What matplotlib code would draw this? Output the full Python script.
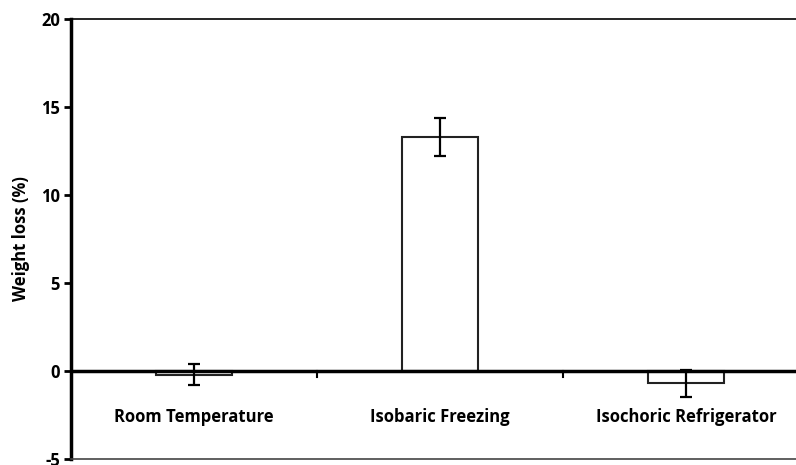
import matplotlib.pyplot as plt
import numpy as np

categories = ['Room Temperature', 'Isobaric Freezing', 'Isochoric Refrigerator']
weight_loss = [-0.2, 13.3, -0.7]
errors = [0.6, 1.1, 0.75]
yticks = [-5, 0, 5, 10, 15, 20]

plt.rcParams['font.family'] = ['Open Sans', 'DejaVu Sans']
plt.rcParams['font.weight'] = 'bold'
plt.rcParams['axes.unicode_minus'] = False

fig = plt.figure(figsize=(7.96, 4.65), dpi=100)
ax = fig.add_axes([71 / 796, 6 / 465, 738 / 796, 440 / 465])

x = np.arange(len(categories))
ax.bar(x, weight_loss, width=0.31, color='white', edgecolor='#222222', linewidth=1.5, zorder=2)
ax.errorbar(x, weight_loss, yerr=errors, fmt='none', ecolor='black',
            elinewidth=1.6, capsize=4.5, capthick=1.6, zorder=3)

# zero line with category dividers
ax.axhline(0, color='black', linewidth=2.5, zorder=4)
for b in x[:-1] + 0.5:
    ax.plot([b, b], [0, -0.35], color='black', linewidth=1.5, zorder=4)

for xi, lab in zip(x, categories):
    ax.text(xi, -2.6, lab, ha='center', va='center', fontsize=12, fontweight='bold')

ax.set_xlim(-0.5, len(categories) - 0.5)
ax.set_ylim(-5, 20)
ax.set_yticks(yticks)
ax.set_xticks([])
ax.tick_params(axis='y', direction='out', length=5, width=2, labelsize=12, pad=3)
for t in ax.get_yticklabels():
    t.set_fontweight('bold')
ax.set_ylabel('Weight loss (%)', fontsize=12, fontweight='bold', labelpad=8)

ax.spines['left'].set_linewidth(2.5)
ax.spines['top'].set_linewidth(1.2)
ax.spines['bottom'].set_linewidth(1.2)
ax.spines['bottom'].set_color('#444444')
ax.spines['right'].set_visible(False)

fig.savefig('out.png', dpi=100)
